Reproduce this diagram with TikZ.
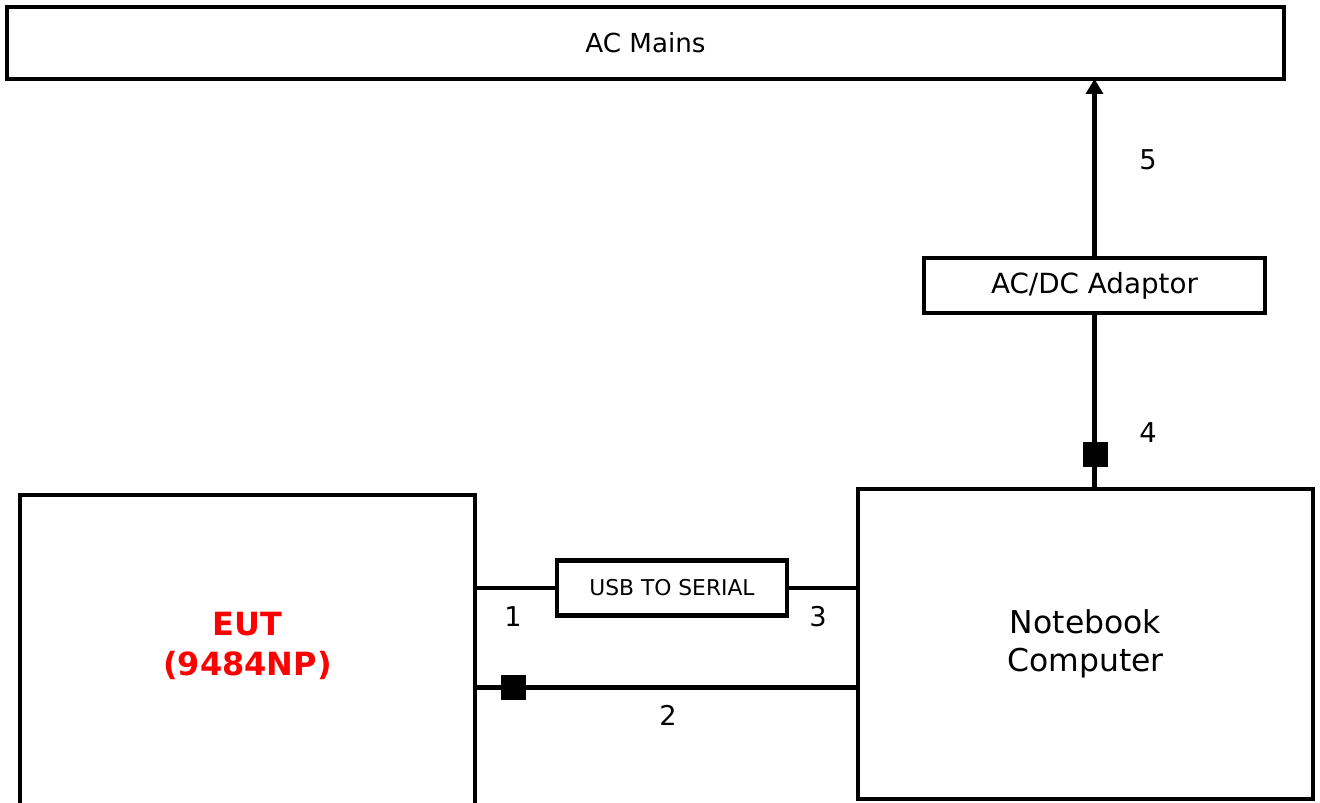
\documentclass[tikz,border=0pt]{standalone}
\usepackage{fontspec}
\setmainfont{DejaVu Sans}
\usetikzlibrary{positioning}
\usetikzlibrary{arrows.meta}

\tikzset{
  box/.style={draw, line width=2.3pt, inner sep=0pt, fill=white},
  wire/.style={line width=2.3pt},
  plug/.style={fill=black, inner sep=0pt, minimum size=0.5cm},
  num/.style={font=\fontsize{15.5}{18}\selectfont}
}

\begin{document}
\begin{tikzpicture}[x=0.02cm, y=-0.02cm]
\useasboundingbox (0,0) rectangle (1320,803);
% boxes
\node[box, minimum width=25.54cm, minimum height=1.44cm,
  font=\fontsize{14.9}{18}\selectfont] (mains) at (645.5,43) {AC Mains};
\node[box, minimum width=6.82cm, minimum height=1.1cm,
  font=\fontsize{15.8}{18}\selectfont] (adaptor) at (1094.5,285.5) {AC/DC Adaptor};
\node[box, minimum width=9.1cm, minimum height=6.2cm, align=center,
  font=\fontsize{17.9}{22}\selectfont] (nb) at (1085.5,644) {Notebook\\Computer};
\node[box, minimum width=9.1cm, minimum height=6.8cm] (eut) at (247.5,665) {};
\node[align=center, text=red, font=\fontsize{18.2}{22.7}\selectfont\bfseries]
  (eutlabel) at (247.5,646) {EUT\\(9484NP)};
\node[box, minimum width=4.6cm, minimum height=1.1cm,
  font=\fontsize{12.4}{14}\selectfont] (usb) at (672,588) {USB TO SERIAL};
% plugs
\node[plug] (sq4) at (1095,454.5) {};
\node[plug] (sq2) at (513.5,687.5) {};
% cables
\draw[wire, -{Triangle[length=8.5pt, width=9.5pt]}, shorten >=-1.2pt]
  (adaptor.north) -- (adaptor.north |- mains.south);
\draw[wire] (adaptor.south) -- (adaptor.south |- nb.north);
\draw[wire] (eut.east |- usb.west) -- (usb.west);
\draw[wire] (usb.east) -- (usb.east -| nb.west);
\draw[wire] (eut.east |- sq2) -- (nb.west |- sq2);
\node[plug] at (sq4) {};
\node[plug] at (sq2) {};
% labels
\node[num] (n1) at (513,617) {1};
\node[num] (n2) at (668,715) {2};
\node[num] (n3) at (818,617) {3};
\node[num] (n4) at (1148,433) {4};
\node[num] (n5) at (1148,160) {5};
\end{tikzpicture}
\end{document}
